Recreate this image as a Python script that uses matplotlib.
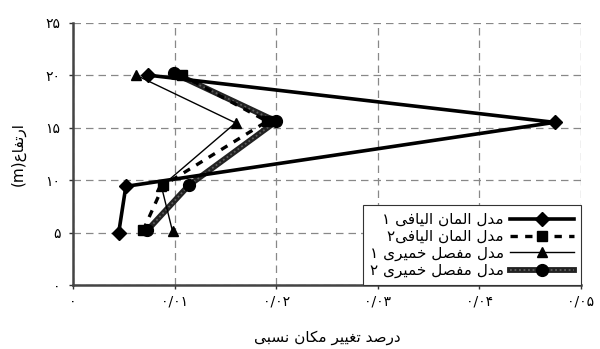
import matplotlib
matplotlib.use("Agg")
import matplotlib.pyplot as plt
from matplotlib.legend_handler import HandlerTuple

# Arabic/Persian presentation forms: (isolated, final, initial, medial)
FORMS = {
    'ا': ('\uFE8D', '\uFE8E', None, None),
    'د': ('\uFEA9', '\uFEAA', None, None),
    'ر': ('\uFEAD', '\uFEAE', None, None),
    'ب': ('\uFE8F', '\uFE90', '\uFE91', '\uFE92'),
    'ت': ('\uFE95', '\uFE96', '\uFE97', '\uFE98'),
    'خ': ('\uFEA5', '\uFEA6', '\uFEA7', '\uFEA8'),
    'س': ('\uFEB1', '\uFEB2', '\uFEB3', '\uFEB4'),
    'ص': ('\uFEB9', '\uFEBA', '\uFEBB', '\uFEBC'),
    'ع': ('\uFEC9', '\uFECA', '\uFECB', '\uFECC'),
    'غ': ('\uFECD', '\uFECE', '\uFECF', '\uFED0'),
    'ف': ('\uFED1', '\uFED2', '\uFED3', '\uFED4'),
    'ک': ('\uFB8E', '\uFB8F', '\uFB90', '\uFB91'),
    'ل': ('\uFEDD', '\uFEDE', '\uFEDF', '\uFEE0'),
    'م': ('\uFEE1', '\uFEE2', '\uFEE3', '\uFEE4'),
    'ن': ('\uFEE5', '\uFEE6', '\uFEE7', '\uFEE8'),
    'ی': ('\uFBFC', '\uFBFD', '\uFBFE', '\uFBFF'),
}


def shape_word(w):
    out = []
    for i, c in enumerate(w):
        if c not in FORMS:
            out.append(c)
            continue
        prev = w[i - 1] if i > 0 else None
        nxt = w[i + 1] if i + 1 < len(w) else None
        join_prev = prev in FORMS and FORMS[prev][2] is not None
        join_next = nxt in FORMS and FORMS[c][2] is not None
        iso, fin, ini, med = FORMS[c]
        if join_prev and join_next:
            out.append(med)
        elif join_prev:
            out.append(fin)
        elif join_next:
            out.append(ini)
        else:
            out.append(iso)
    return ''.join(reversed(out))


def fa(text):
    # right-to-left: last word drawn first
    return ' '.join(shape_word(w) for w in reversed(text.split(' ')))


# data
heights_1 = [5, 9.4, 15.5, 20]
drift_1 = [0.0045, 0.0052, 0.0474, 0.0074]
heights_2 = [5.2, 9.5, 15.6, 20]
drift_2 = [0.0069, 0.0089, 0.0191, 0.0107]
heights_3 = [5.1, 9.4, 15.45, 20]
drift_3 = [0.0098, 0.0087, 0.0160, 0.0062]
heights_4 = [5.2, 9.5, 15.6, 20.2]
drift_4 = [0.0073, 0.0114, 0.0200, 0.0099]

labels = ['مدل المان الیافی ۱', 'مدل المان الیافی۲',
          'مدل مفصل خمیری ۱', 'مدل مفصل خمیری ۲']

x_ticks = [0, 0.01, 0.02, 0.03, 0.04, 0.05]
x_ticklabels = ['۰', '۰/۰۱', '۰/۰۲', '۰/۰۳', '۰/۰۴', '۰/۰۵']
y_ticks = [0, 5, 10, 15, 20, 25]
y_ticklabels = ['۰', '۵', '۱۰', '۱۵', '۲۰', '۲۵']

plt.rcParams['font.family'] = ['DejaVu Sans']

fig = plt.figure(figsize=(6.0, 3.49), dpi=100)
ax = fig.add_axes([0.1217, 0.1834, 0.8466, 0.7516])

l1, = ax.plot(drift_1, heights_1, color='black', lw=2.6, marker='D', ms=7, zorder=5)
l2, = ax.plot(drift_2, heights_2, color='black', lw=2.4, ls=(0, (2.2, 2.2)),
              marker='s', ms=7, zorder=4)
l3, = ax.plot(drift_3, heights_3, color='black', lw=1.0, marker='^', ms=7, zorder=6)
# thick stippled line for the last model
l4a, = ax.plot(drift_4, heights_4, color='#222222', lw=4.2, zorder=3)
l4b, = ax.plot(drift_4, heights_4, color='#5e5e5e', lw=1.3, ls=(0, (1, 1.5)), zorder=3.1)
l4c, = ax.plot(drift_4, heights_4, ls='none', color='black', marker='o', ms=8.5, zorder=3.2)

ax.set_xlim(0, 0.05)
ax.set_ylim(0, 25)
ax.set_xticks(x_ticks)
ax.set_xticklabels(x_ticklabels, fontsize=10)
ax.set_yticks(y_ticks)
ax.set_yticklabels(y_ticklabels, fontsize=10)
ax.tick_params(axis='both', length=3, width=1, color='#333333')
ax.tick_params(axis='y', pad=6)
ax.tick_params(axis='x', pad=4)

ax.grid(True, color='#888888', ls=(0, (6, 4)), lw=0.9)
ax.set_axisbelow(True)
for s in ['top', 'right']:
    ax.spines[s].set_visible(False)
for s in ['left', 'bottom']:
    ax.spines[s].set_linewidth(1.8)
    ax.spines[s].set_color('#444444')

ax.set_xlabel(fa('درصد تغییر مکان نسبی'), fontsize=11, labelpad=15)
ax.set_ylabel('(m)' + shape_word('ارتفاع'), fontsize=11, labelpad=14)

leg = ax.legend([l1, l2, l3, (l4a, l4b, l4c)], [fa(t) for t in labels],
                handler_map={tuple: HandlerTuple(ndivide=1)},
                loc='lower right', markerfirst=False, fontsize=11,
                frameon=True, fancybox=False, edgecolor='#333333',
                framealpha=1, borderaxespad=0, labelspacing=0.12,
                handlelength=4.2, handletextpad=0.4, borderpad=0.45)
leg.get_frame().set_linewidth(0.8)

fig.savefig('out.png', dpi=100)
